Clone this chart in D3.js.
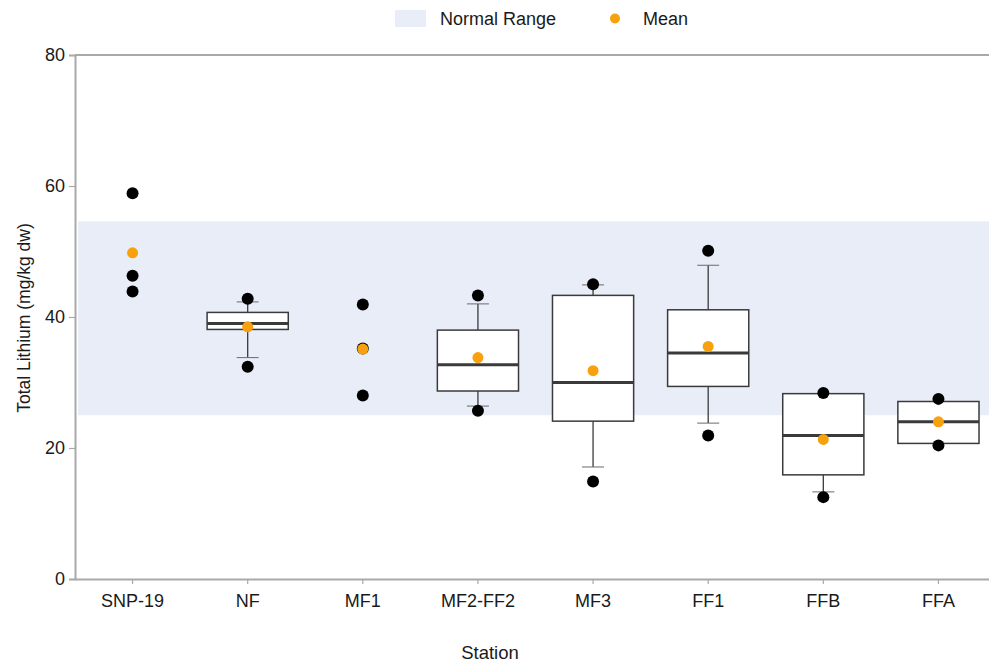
<!DOCTYPE html>
<html>
<head>
<meta charset="utf-8">
<script src="https://cdn.jsdelivr.net/npm/d3@7"></script>
<style>
  html, body { margin: 0; padding: 0; background: #fff; }
  svg { display: block; font-family: "Liberation Sans", Arial, sans-serif; }
</style>
</head>
<body>
<svg id="chart" width="989" height="664"></svg>
<script>
// Stations along the x axis
const stations = ["SNP-19", "NF", "MF1", "MF2-FF2", "MF3", "FF1", "FFB", "FFA"];

// Box statistics (null where a station has too few samples for a box)
const q1         = [null, 38.1, null, 28.7, 24.1, 29.4, 15.9, 20.7];
const medians    = [null, 39.0, null, 32.7, 30.0, 34.5, 21.9, 24.0];
const q3         = [null, 40.7, null, 38.0, 43.3, 41.1, 28.3, 27.1];
const whiskerLow = [null, 33.8, null, 26.4, 17.1, 23.8, 13.3, 20.7];
const whiskerHigh= [null, 42.3, null, 42.0, 44.9, 47.9, 28.3, 27.1];

// Individual plotted samples per station
const samples = [
  [58.9, 46.3, 43.9],
  [42.8, 32.4],
  [41.9, 35.2, 28.0],
  [43.3, 25.7],
  [45.0, 14.9],
  [50.1, 21.9],
  [28.4, 12.5],
  [27.5, 20.4]
];

// Station means
const means = [49.8, 38.5, 35.1, 33.8, 31.8, 35.5, 21.3, 24.0];

// Normal range band limits
const normalRange = [25, 54.6];

const yTicks = [0, 20, 40, 60, 80];

const svg = d3.select("#chart");
const textColor = "#1a1a1a";
const axisColor = "#a9a9a9";
const boxColor = "#3a3a3a";
const bandColor = "#e8edf8";
const meanColor = "#f6a10d";

const x = d3.scaleBand().domain(stations).range([75, 996]).paddingInner(0).paddingOuter(0);
const y = d3.scaleLinear().domain([0, 80]).range([579, 55]);
const cx = s => x(s) + x.bandwidth() / 2;
const boxW = x.bandwidth() * 0.705;
const capW = 22;

// Normal range band
svg.append("rect")
  .attr("x", 78)
  .attr("width", 996 - 78)
  .attr("y", y(normalRange[1]))
  .attr("height", y(normalRange[0]) - y(normalRange[1]))
  .attr("fill", bandColor);

// Top frame line
svg.append("line")
  .attr("x1", 75).attr("x2", 996)
  .attr("y1", y(80)).attr("y2", y(80))
  .attr("stroke", axisColor).attr("stroke-width", 2);

// Y axis
const yAxis = svg.append("g")
  .attr("transform", "translate(75,0)")
  .call(d3.axisLeft(y).tickValues(yTicks).tickSize(6).tickPadding(4));
yAxis.select(".domain").attr("stroke", axisColor).attr("stroke-width", 2);
yAxis.selectAll(".tick line").attr("stroke", axisColor).attr("stroke-width", 1.2);
yAxis.selectAll(".tick text")
  .attr("fill", textColor)
  .style("font-size", "18px")
  .style("font-family", "'Liberation Sans', Arial, sans-serif");

// X axis
const xAxis = svg.append("g")
  .attr("transform", `translate(0,${y(0)})`)
  .call(d3.axisBottom(x).tickSize(5).tickPadding(10).tickSizeOuter(0));
xAxis.select(".domain").attr("stroke", axisColor).attr("stroke-width", 2);
xAxis.selectAll(".tick line").attr("stroke", axisColor).attr("stroke-width", 1.2);
xAxis.selectAll(".tick text")
  .attr("fill", textColor)
  .style("font-size", "18px")
  .style("font-family", "'Liberation Sans', Arial, sans-serif");

// Axis titles
svg.append("text")
  .attr("transform", `translate(30,${(y(0) + y(80)) / 2 + 1}) rotate(-90)`)
  .attr("text-anchor", "middle")
  .attr("fill", textColor)
  .style("font-size", "17.5px")
  .text("Total Lithium (mg/kg dw)");

svg.append("text")
  .attr("x", 490)
  .attr("y", 659)
  .attr("text-anchor", "middle")
  .attr("fill", textColor)
  .style("font-size", "18.5px")
  .text("Station");

// Box plots
const boxes = stations.map((s, i) => ({
  s, q1: q1[i], med: medians[i], q3: q3[i], lo: whiskerLow[i], hi: whiskerHigh[i]
})).filter(d => d.q1 !== null);

const bg = svg.append("g");
boxes.forEach(d => {
  const c = cx(d.s);
  // whiskers
  if (d.hi > d.q3) {
    bg.append("line").attr("x1", c).attr("x2", c).attr("y1", y(d.q3)).attr("y2", y(d.hi))
      .attr("stroke", boxColor).attr("stroke-width", 1.3);
    bg.append("line").attr("x1", c - capW / 2).attr("x2", c + capW / 2).attr("y1", y(d.hi)).attr("y2", y(d.hi))
      .attr("stroke", "#6a6a6a").attr("stroke-width", 1);
  }
  if (d.lo < d.q1) {
    bg.append("line").attr("x1", c).attr("x2", c).attr("y1", y(d.q1)).attr("y2", y(d.lo))
      .attr("stroke", boxColor).attr("stroke-width", 1.3);
    bg.append("line").attr("x1", c - capW / 2).attr("x2", c + capW / 2).attr("y1", y(d.lo)).attr("y2", y(d.lo))
      .attr("stroke", "#6a6a6a").attr("stroke-width", 1);
  }
  // box
  bg.append("rect")
    .attr("x", c - boxW / 2).attr("width", boxW)
    .attr("y", y(d.q3)).attr("height", y(d.q1) - y(d.q3))
    .attr("fill", "#fff").attr("stroke", boxColor).attr("stroke-width", 1.5);
  // median
  bg.append("line")
    .attr("x1", c - boxW / 2).attr("x2", c + boxW / 2)
    .attr("y1", y(d.med)).attr("y2", y(d.med))
    .attr("stroke", boxColor).attr("stroke-width", 3);
});

// Sample points
const pts = stations.flatMap((s, i) => samples[i].map(v => ({ s, v })));
svg.append("g").selectAll("circle").data(pts).join("circle")
  .attr("cx", d => cx(d.s))
  .attr("cy", d => y(d.v))
  .attr("r", 6)
  .attr("fill", "#000");

// Means
svg.append("g").selectAll("circle").data(stations.map((s, i) => ({ s, v: means[i] }))).join("circle")
  .attr("cx", d => cx(d.s))
  .attr("cy", d => y(d.v))
  .attr("r", 5.5)
  .attr("fill", meanColor);

// Legend
const lg = svg.append("g");
lg.append("rect").attr("x", 395).attr("y", 10).attr("width", 31).attr("height", 17).attr("fill", bandColor);
lg.append("text").attr("x", 440).attr("y", 25).attr("fill", textColor).style("font-size", "18px").text("Normal Range");
lg.append("circle").attr("cx", 615).attr("cy", 18.5).attr("r", 5).attr("fill", meanColor);
lg.append("text").attr("x", 643).attr("y", 25).attr("fill", textColor).style("font-size", "18px").text("Mean");
</script>
</body>
</html>
